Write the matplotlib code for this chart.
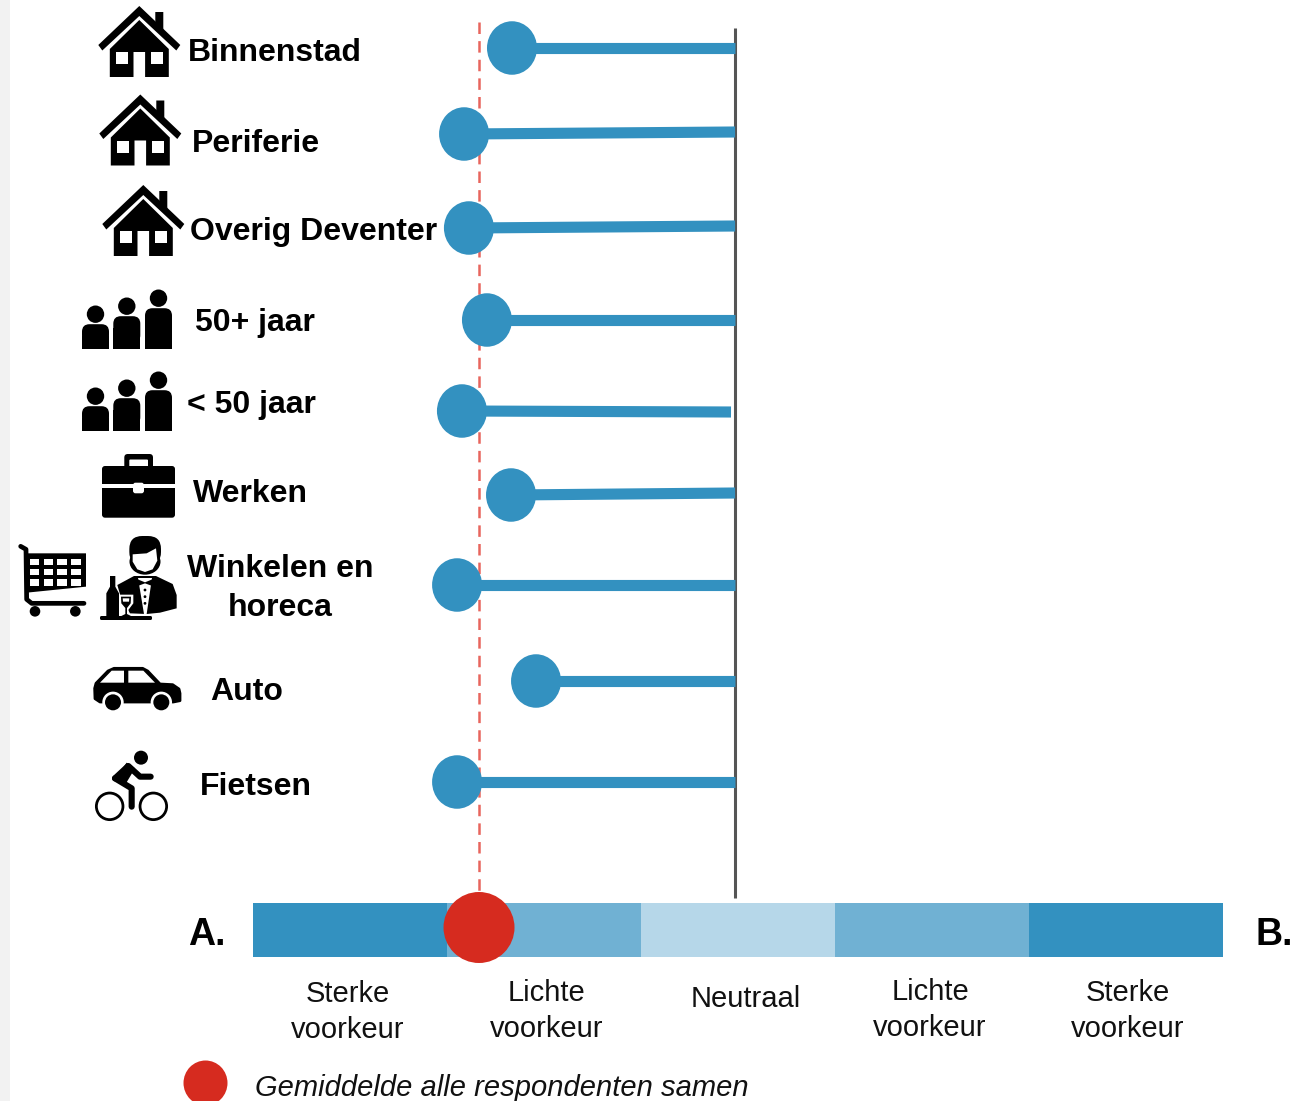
import matplotlib
matplotlib.use("Agg")
import matplotlib.pyplot as plt
from matplotlib.patches import Ellipse, Polygon, Rectangle, Circle, FancyBboxPatch

plt.rcParams['font.family'] = ['Liberation Sans', 'DejaVu Sans']

# scale runs 0..5 over the five coloured blocks
groups = ['Binnenstad', 'Periferie', 'Overig Deventer', '50+ jaar', '< 50 jaar',
          'Werken', 'Winkelen en\nhoreca', 'Auto', 'Fietsen']
scores = [1.335, 1.088, 1.113, 1.206, 1.077, 1.330, 1.052, 1.459, 1.052]
line_ends = [2.485, 2.485, 2.485, 2.485, 2.464, 2.485, 2.485, 2.485, 2.485]
mean_all = 1.165
neutral = 2.485
scale_labels = ['Sterke\nvoorkeur', 'Lichte\nvoorkeur', 'Neutraal', 'Lichte\nvoorkeur', 'Sterke\nvoorkeur']
legend_label = 'Gemiddelde alle respondenten samen'

# layout, in pixels of the picture
dot_y = [48, 134, 228, 320, 411, 495, 585, 681, 782]
end_y = [48, 132, 226, 320, 412, 493, 585, 681, 782]
label_x = [274.5, 256, 313.5, 255, 251, 250.5, 280.5, 246.5, 255.5]
label_y = [53, 144, 232, 323, 405, 494, 588.5, 692, 787]
scale_label_x = [347.5, 547, 746, 930, 1128]
scale_label_y = [1012, 1011, 999, 1010, 1011]
block_colors = ['#3391c0', '#70b1d3', '#b6d7e9', '#70b1d3', '#3391c0']

BLUE = '#3391c0'
RED = '#d62b1f'
PX = 194.0   # pixels per scale unit
X0 = 253.0


def sx(px):
  return (px - X0) / PX


def zp(pts, y0=440):
  # points measured on the 3x crop of the lower icons
  return [(x / 3.0, y / 3.0 + y0) for x, y in pts]


def poly(ax, pts, color='black', z=3):
  ax.add_patch(Polygon(pts, closed=True, fc=color, ec='none', zorder=z))


def rect(ax, x0, y0, x1, y1, color='black', z=3):
  ax.add_patch(Rectangle((x0, y0), x1 - x0, y1 - y0, fc=color, ec='none', zorder=z))


def rbox(ax, x0, y0, x1, y1, r, color='black', z=3):
  ax.add_patch(FancyBboxPatch((x0, y0), x1 - x0, y1 - y0, boxstyle='round,pad=0,rounding_size=%g' % r,
                              fc=color, ec='none', zorder=z))


def circ(ax, x, y, r, color='black', z=3):
  ax.add_patch(Circle((x, y), r, fc=color, ec='none', zorder=z))


def house(ax, ax_x, ax_y):
  def p(pts):
    return [(ax_x + a, ax_y + b) for a, b in pts]
  poly(ax, p([(16, 6), (24, 6), (24, 30), (16, 24)]))
  poly(ax, p([(0, 0), (41, 39), (37, 44.5), (0, 10), (-37, 44.5), (-41, 39)]))
  poly(ax, p([(0, 14), (29.5, 43), (29.5, 71), (5.8, 71), (5.8, 46), (-5.8, 46), (-5.8, 71), (-29.5, 71), (-29.5, 43)]))
  for wx in (-23.5, 11.8):
    rect(ax, ax_x + wx, ax_y + 46, ax_x + wx + 12, ax_y + 58, 'white', 4)


def person(ax, x0, x1, base, top, head_r):
  mid = (x0 + x1) / 2.0
  rbox(ax, x0, top, x1, base - 6, 7.5)
  rect(ax, x0, top + 12, x1, base)
  circ(ax, mid, top - 10, head_r)


def people(ax, base):
  person(ax, 82, 109, base, base - 24.5, 8.7)
  person(ax, 113.3, 140.3, base, base - 32.5, 8.7)
  person(ax, 145, 172, base, base - 40.5, 8.7)


def briefcase(ax):
  rbox(ax, 124.3, 454, 153, 470, 3.5)
  rbox(ax, 129.3, 459.5, 148, 471.5, 1, 'white', 4)
  rbox(ax, 102, 466, 175, 517.7, 3, 'black', 5)
  rect(ax, 102, 484.3, 175, 488.3, 'white', 6)
  rbox(ax, 133, 482.7, 144, 493.3, 2.5, 'white', 6)


def cart(ax):
  ax.plot(*zip(*zp([(62, 319), (78, 328), (80, 478), (95, 490), (252, 490)])), color='black', lw=3.4,
          solid_capstyle='round', solid_joinstyle='round', zorder=3)
  poly(ax, zp([(80, 340), (258, 340), (258, 440), (80, 458)]))
  cols = [(91, 118), (132, 158), (172, 200), (214, 242)]
  rows = [(356, 374), (388, 405), (418, 438)]
  for c0, c1 in cols:
    for r0, r1 in rows:
      rect(ax, c0 / 3.0, r0 / 3.0 + 440, c1 / 3.0, r1 / 3.0 + 440, 'white', 4)


  circ(ax, 105 / 3.0, 514 / 3.0 + 440, 5.3)
  circ(ax, 226 / 3.0, 514 / 3.0 + 440, 5.3)


def waiter(ax):
  # head
  rbox(ax, 388 / 3.0, 288 / 3.0 + 440, 483 / 3.0, 375 / 3.0 + 440, 13)
  ax.add_patch(Ellipse((435 / 3.0, 365 / 3.0 + 440), 31, 26, fc='black', ec='none', zorder=3))
  poly(ax, zp([(398, 343), (440, 340), (468, 325), (472, 362), (458, 388), (435, 396), (412, 388), (398, 365)]), 'white', 4)
  # jacket
  poly(ax, zp([(352, 435), (402, 408), (468, 408), (518, 432), (530, 465), (530, 505), (480, 518), (440, 522),
               (390, 520), (362, 470)]))
  poly(ax, zp([(414, 414), (456, 414), (440, 522), (432, 522)]), 'white', 4)
  poly(ax, zp([(413, 418), (435, 427), (457, 418), (457, 438), (435, 430), (413, 438)]), 'black', 5)
  for by in (450, 470, 490):
    circ(ax, 435 / 3.0, by / 3.0 + 440, 1.4, 'black', 5)
  # bottle
  poly(ax, zp([(330, 408), (346, 408), (346, 440), (357, 460), (357, 530), (319, 530), (319, 460), (330, 440)]), 'black', 5)
  # glass
  poly(ax, zp([(358, 464), (400, 464), (400, 490), (385, 510), (385, 528), (372, 528), (372, 510), (358, 490)]), 'white', 6)
  poly(ax, zp([(363, 470), (393, 470), (392, 490), (381, 504), (381, 522), (393, 528), (364, 528), (376, 522), (376, 504), (364, 490)]), 'black', 7)
  poly(ax, zp([(368, 475), (388, 475), (387, 485), (369, 485)]), 'white', 8)
  # tray
  rbox(ax, 100, 528 / 3.0 + 440, 152, 540 / 3.0 + 440, 1.5, 'black', 8)


def car(ax):
  ax.add_patch(Polygon(zp([(284, 745), (288, 730), (324, 693), (342, 685), (428, 685), (443, 693), (480, 732), (518, 734),
                           (537, 747), (540, 760), (540, 782), (520, 786), (300, 786), (285, 776)]),
                       closed=True, fc='black', ec='black', lw=2, joinstyle='round', zorder=3))
  poly(ax, zp([(300, 728), (335, 692), (372, 692), (372, 728)]), 'white', 4)
  poly(ax, zp([(385, 692), (430, 692), (465, 728), (385, 728)]), 'white', 4)
  for wx in (339, 484):
    circ(ax, wx / 3.0, 787 / 3.0 + 440, 10.7, 'white', 4)
    circ(ax, wx / 3.0, 787 / 3.0 + 440, 8, 'black', 5)


def bike(ax):
  circ(ax, 423 / 3.0, 953 / 3.0 + 440, 7)
  for wx in (329, 460):
    ax.add_patch(Circle((wx / 3.0, 1099 / 3.0 + 440), 13.3, fc='none', ec='black', lw=2.0, zorder=3))
  ax.plot(*zip(*zp([(345, 1015), (385, 978), (420, 1010), (452, 1010)])), color='black', lw=4.4,
          solid_capstyle='round', solid_joinstyle='round', zorder=3)
  ax.plot(*zip(*zp([(345, 1015), (395, 1045), (395, 1100)])), color='black', lw=4.4,
          solid_capstyle='round', solid_joinstyle='round', zorder=3)
  poly(ax, zp([(345, 1015), (380, 968), (405, 985), (375, 1035)]))


fig = plt.figure(figsize=(13.14, 11.01), dpi=100)
fig.patch.set_facecolor('white')

ax = fig.add_axes([0, 0, 1, 1])
ax.set_xlim(sx(0), sx(1314))
ax.set_ylim(1101, 0)
ax.axis('off')

# lines and dots
ax.plot([neutral, neutral], [28, 898], color='#555555', lw=2.2, solid_capstyle='butt', zorder=2)
ax.plot([mean_all, mean_all], [22, 892], color='#e8655d', lw=1.8, dashes=(4.6, 2.85), dash_capstyle='butt', zorder=1)
for s, e, y0, y1 in zip(scores, line_ends, dot_y, end_y):
  ax.plot([s, e], [y0, y1], color=BLUE, lw=8, solid_capstyle='butt', zorder=3)
  ax.add_patch(Ellipse((s, y0), 50 / PX, 53.5, fc=BLUE, ec='none', zorder=4))

# preference bar
ax.barh([930] * 5, [1] * 5, left=list(range(5)), height=54, color=block_colors, zorder=2)
ax.add_patch(Ellipse((mean_all, 927.5), 71 / PX, 71, fc=RED, ec='none', zorder=5))
ax.add_patch(Ellipse((sx(205.5), 1083), 44 / PX, 45, fc=RED, ec='none', zorder=5))

# everything on the left is placed in picture pixels
ov = fig.add_axes([0, 0, 1, 1], facecolor='none')
ov.set_xlim(0, 1314)
ov.set_ylim(1101, 0)
ov.axis('off')

rect(ov, 0, 0, 10, 1101, '#f2f2f2', 0)

for g, x, y in zip(groups, label_x, label_y):
  ov.text(x, y, g, ha='center', va='center', fontsize=23, fontweight='bold', color='black', linespacing=1.4)

for t, x, y in zip(scale_labels, scale_label_x, scale_label_y):
  ov.text(x, y, t, ha='center', va='center', fontsize=21, color='#111111', linespacing=1.33)

ov.text(206.5, 935, 'A.', ha='center', va='center', fontsize=27, fontweight='bold')
ov.text(1274, 935, 'B.', ha='center', va='center', fontsize=27, fontweight='bold')
ov.text(255, 1088, legend_label, ha='left', va='center', fontsize=21, style='italic', color='#111111')

house(ov, 139.3, 6)
house(ov, 140.3, 94.5)
house(ov, 143.3, 185)
people(ov, 348.7)
people(ov, 430.7)
briefcase(ov)
cart(ov)
waiter(ov)
car(ov)
bike(ov)

fig.savefig('out.png', dpi=100)
